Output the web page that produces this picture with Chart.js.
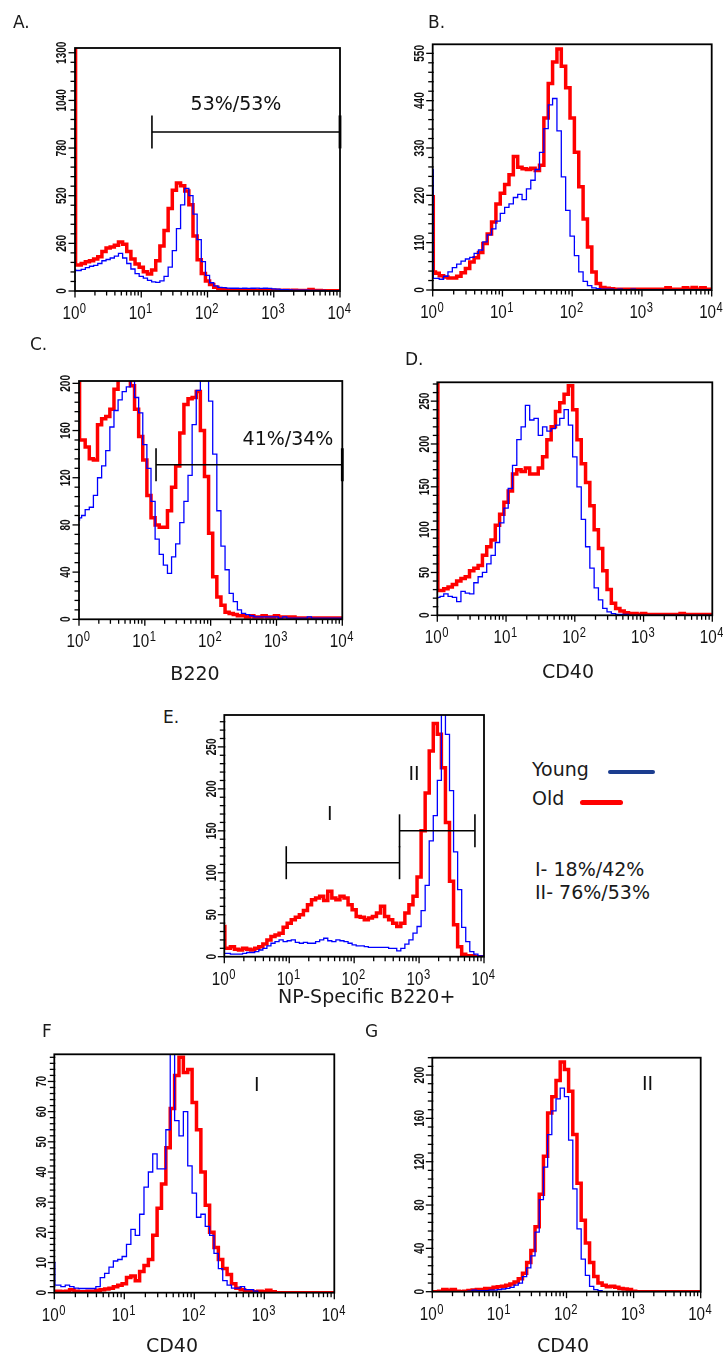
<!DOCTYPE html>
<html><head><meta charset="utf-8">
<script src="https://cdn.jsdelivr.net/npm/chart.js@4.4.1/dist/chart.umd.min.js"></script>
<style>
html,body{margin:0;padding:0;background:#fff;}
body{position:relative;width:723px;height:1355px;overflow:hidden;font-family:"DejaVu Sans",sans-serif;color:#1a1a1a;}
canvas{position:absolute;}
.t{position:absolute;white-space:nowrap;line-height:1;}
.c{text-align:center;width:240px;}
.ln{position:absolute;height:4.5px;border-radius:2.5px;}
</style></head><body>
<canvas id="cA" width="360" height="330" style="left:0;top:0"></canvas>
<canvas id="cB" width="363" height="330" style="left:360px;top:0"></canvas>
<canvas id="cC" width="360" height="360" style="left:0;top:330px"></canvas>
<canvas id="cD" width="363" height="360" style="left:360px;top:330px"></canvas>
<canvas id="cE" width="320" height="330" style="left:180px;top:690px"></canvas>
<canvas id="cF" width="360" height="335" style="left:0;top:1020px"></canvas>
<canvas id="cG" width="363" height="335" style="left:360px;top:1020px"></canvas>

<div class="t" style="left:13px;top:13.6px;font-size:17px">A.</div>
<div class="t" style="left:428px;top:13.6px;font-size:17px">B.</div>
<div class="t" style="left:30px;top:335.6px;font-size:17px">C.</div>
<div class="t" style="left:405px;top:350.6px;font-size:17px">D.</div>
<div class="t" style="left:163px;top:708.6px;font-size:17px">E.</div>
<div class="t" style="left:42px;top:1022.6px;font-size:17px">F</div>
<div class="t" style="left:365px;top:1022.6px;font-size:17px">G</div>

<div class="t c" style="left:75px;top:663.9px;font-size:19px">B220</div>
<div class="t c" style="left:448px;top:661.9px;font-size:19px">CD40</div>
<div class="t c" style="left:246.7px;top:986.9px;font-size:19px">NP-Specific B220+</div>
<div class="t c" style="left:52px;top:1335.9px;font-size:19px">CD40</div>
<div class="t c" style="left:443px;top:1335.9px;font-size:19px">CD40</div>

<div class="t" style="left:532px;top:759.9px;font-size:19px">Young</div>
<div class="ln" style="left:608px;top:769.5px;width:47px;background:#1b3d8f"></div>
<div class="t" style="left:532px;top:788.9px;font-size:19px">Old</div>
<div class="ln" style="left:580px;top:800px;width:43px;background:#ff0000"></div>
<div class="t" style="left:535px;top:859.9px;font-size:19px">I- 18%/42%</div>
<div class="t" style="left:535px;top:882.9px;font-size:19px">II- 76%/53%</div>

<script>
// ---------- DATA ----------
// histogram channel positions (fluorescence intensity, log axis 10^0 .. 10^4)
const X_CHANNELS = [1, 1.04, 1.155, 1.334, 1.54, 1.778, 2.054, 2.371, 2.738, 3.162, 3.652, 4.217, 4.87, 5.623, 6.494, 7.499, 8.66,
  10, 11.55, 13.34, 15.4, 17.78, 20.54, 23.71, 27.38, 31.62, 36.52, 42.17, 48.7, 56.23, 64.94, 74.99, 86.6,
  100, 115.5, 133.4, 154, 177.8, 205.4, 237.1, 273.8, 316.2, 365.2, 421.7, 487, 562.3, 649.4, 749.9, 866,
  1000, 1155, 1334, 1540, 1778, 2054, 2371, 2738, 3162, 3652, 4217, 4870, 5623, 6494, 7499, 8660, 10000];

const X_TICK_VALUES = [1, 10, 100, 1000, 10000];
const X_TICK_BASE = '10';
const X_TICK_EXP = ['0', '1', '2', '3', '4'];

// Panel A
const A_YOUNG = [118, 112, 112, 118, 128, 135, 140, 150, 165, 172, 180, 190, 205, 180, 150, 120, 95, 80, 70, 58, 50, 47,
  55, 80, 130, 220, 340, 470, 560, 520, 420, 280, 160, 85, 45, 28, 20, 18, 16, 15, 15, 14,
  15, 14, 15, 16, 14, 15, 14, 12, 10, 8, 7, 6, 5, 5, 4, 4, 3, 3, 3, 3, 2, 2, 2, 2];
const A_OLD = [1400, 142, 142, 150, 160, 165, 175, 187, 215, 235, 240, 250, 268, 255, 215, 175, 148, 130, 105, 93, 115, 165,
  245, 330, 450, 550, 590, 575, 545, 470, 300, 170, 95, 55, 35, 20, 12, 8, 6, 5, 5, 4,
  5, 4, 5, 4, 4, 5, 4, 4, 4, 3, 4, 3, 4, 3, 3, 3, 8, 3, 3, 2, 2, 2, 2, 2];
const A_Y_TICKS = [0, 260, 520, 780, 1040, 1300];
const A_GATES = [[14.5, 10000, 868]];
const A_NOTES = [['53%/53%', 269, 987]];

// Panel B
const B_YOUNG = [280, 27, 27, 25, 32, 42, 52, 60, 67, 72, 76, 85, 93, 112, 128, 142, 160, 178, 192, 200, 215, 222,
  210, 235, 255, 280, 320, 375, 430, 445, 370, 263, 185, 125, 80, 42, 20, 10, 5, 3, 2, 2,
  2, 1, 2, 1, 1, 2, 1, 1, 1, 1, 1, 1, 1, 1, 1, 1, 1, 1, 1, 1, 1, 1, 1, 1];
const B_OLD = [217, 42, 39, 33, 30, 28, 28, 32, 40, 50, 65, 75, 87, 108, 130, 158, 200, 225, 245, 268, 310, 285,
  282, 280, 283, 278, 290, 400, 480, 530, 560, 520, 470, 400, 320, 240, 165, 100, 42, 15, 6, 4,
  3, 2, 2, 2, 2, 2, 2, 2, 2, 2, 2, 2, 2, 5, 2, 2, 2, 5, 2, 6, 2, 5, 2, 2];
const B_Y_TICKS = [0, 110, 220, 330, 440, 550];

// Panel C
const C_YOUNG = [84, 86, 88, 93, 95, 105, 120, 130, 143, 163, 177, 186, 193, 197, 205, 188, 175, 148, 128, 100, 68, 55,
  46, 39, 53, 64, 82, 100, 122, 165, 194, 205, 205, 185, 140, 92, 62, 42, 22, 15, 8, 5,
  4, 3, 2, 2, 2, 2, 2, 2, 1, 2, 1, 1, 1, 1, 1, 2, 1, 1, 1, 1, 1, 1, 1, 1];
const C_OLD = [215, 152, 152, 146, 136, 135, 165, 170, 172, 178, 195, 205, 205, 205, 198, 178, 155, 135, 105, 86, 80, 78,
  78, 92, 112, 130, 158, 182, 187, 188, 193, 160, 121, 73, 36, 19, 12, 6, 5, 4, 3, 3,
  2, 3, 2, 2, 3, 2, 2, 3, 2, 2, 2, 2, 1, 1, 1, 1, 1, 1, 1, 1, 1, 1, 1, 1];
const C_Y_TICKS = [0, 40, 80, 120, 160, 200];
const C_GATES = [[14.8, 10000, 131]];
const C_NOTES = [['41%/34%', 1496, 148]];

// Panel D
const D_YOUNG = [21, 21, 22, 25, 22, 21, 16, 28, 26, 25, 38, 45, 50, 60, 70, 85, 108, 125, 148, 175, 205, 220,
  245, 228, 230, 210, 220, 215, 218, 222, 230, 240, 222, 185, 150, 112, 80, 55, 32, 18, 8, 4,
  2, 1, 1, 1, 0, 0, 0, 0, 0, 0, 0, 0, 0, 0, 0, 0, 0, 0, 0, 0, 0, 0, 0, 0];
const D_OLD = [280, 29, 29, 31, 33, 36, 40, 43, 45, 52, 55, 58, 70, 80, 88, 105, 118, 132, 145, 165, 170, 168,
  172, 165, 165, 172, 185, 205, 220, 238, 248, 258, 268, 240, 205, 177, 155, 128, 100, 78, 52, 30,
  14, 8, 5, 3, 2, 2, 1, 2, 1, 1, 1, 1, 1, 1, 1, 1, 2, 1, 1, 1, 1, 1, 1, 1];
const D_Y_TICKS = [0, 50, 100, 150, 200, 250];

// Panel E (NP-specific B220+)
const E_YOUNG = [4, 4, 4, 3, 3, 3, 4, 5, 5, 6, 8, 10, 13, 16, 18, 20, 18, 19, 20, 17, 16, 17,
  16, 16, 18, 20, 22, 19, 18, 20, 19, 18, 16, 14, 13, 13, 12, 11, 11, 11, 11, 11,
  10, 10, 7, 10, 15, 20, 28, 36, 55, 85, 138, 168, 210, 300, 265, 198, 125, 80, 35, 18, 6, 3, 1, 1];
const E_OLD = [36, 10, 10, 12, 9, 8, 10, 9, 8, 10, 12, 15, 20, 24, 26, 28, 35, 40, 44, 47, 50, 55,
  62, 68, 70, 72, 67, 78, 70, 68, 72, 70, 62, 56, 48, 47, 44, 46, 48, 52, 60, 48,
  44, 40, 36, 40, 52, 62, 72, 95, 150, 195, 245, 278, 265, 225, 160, 90, 38, 12, 3, 1, 1, 0, 0, 0];
const E_Y_TICKS = [0, 50, 100, 150, 200, 250];
const E_GATES = [[9, 500, 112], [500, 7250, 150]];
const E_NOTES = [['I', 42, 163], ['II', 835, 210]];

// Panel F (gate I, CD40)
const F_YOUNG = [10, 2.5, 2.5, 2, 2.5, 2, 1.5, 1.4, 1.4, 1.4, 1.4, 2, 5, 6.4, 8.5, 10.5, 11, 12, 16, 21, 19, 26,
  35, 40, 46, 41, 41, 54, 79, 57, 52, 60, 42, 33, 25, 26, 22, 19, 13, 8, 4, 2.5,
  1.5, 1.5, 2, 1, 1, 0.5, 0, 0, 0, 0, 0, 0, 0, 0, 0, 0, 0, 0, 0, 0, 0, 0, 0, 0];
const F_OLD = [0.5, 0.5, 0.5, 0.3, 0.5, 1, 0.5, 0.3, 0.3, 0.5, 0.5, 0.8, 1, 1.2, 1.5, 2, 2.5, 3, 5, 5.5, 4, 7,
  9, 11, 19, 28, 36, 48, 61, 72, 78, 73, 74, 63, 54, 40, 29, 20, 15, 11, 8, 6,
  3, 1.5, 1, 0.5, 0.5, 0.3, 0.5, 0.3, 0.8, 0.3, 0, 0, 0, 0, 0, 0, 0, 0, 0, 0, 0, 0, 0, 0];
const F_Y_TICKS = [0, 10, 20, 30, 40, 50, 60, 70];
const F_NOTES = [['I', 780, 67]];

// Panel G (gate II, CD40)
const G_YOUNG = [0, 0, 0, 0, 0, 0, 0, 0, 0, 0, 0.5, 1.5, 1, 1, 1, 1.5, 1.5, 2, 2.5, 3, 4, 6,
  8, 14, 22, 33, 55, 85, 115, 145, 167, 178, 188, 180, 140, 95, 58, 30, 15, 5, 2, 1,
  0, 0, 0, 0, 0, 0, 0, 0, 0, 0, 0, 0, 0, 0, 0, 0, 0, 0, 0, 0, 0, 0, 0, 0];
const G_OLD = [0, 0, 0, 0.5, 2, 1, 2, 0.5, 0, 0.5, 1, 1.5, 2, 2, 3, 3, 4, 4.5, 5, 6, 7, 9,
  12, 17, 27, 38, 60, 90, 125, 165, 180, 195, 212, 205, 185, 145, 100, 66, 45, 27, 14, 8,
  6, 4.5, 5, 4, 3, 2.5, 2, 0.5, 0, 0, 0, 0, 0, 0, 0, 0, 0, 0, 0, 0, 0, 0, 0, 0];
const G_Y_TICKS = [0, 40, 80, 120, 160, 200];
const G_NOTES = [['II', 1611, 186]];

// ---------- STYLE ----------
const BLUE = '#0000ff';
const RED = '#ff0000';
const TICK_FONT_X = '19px "Liberation Sans", Arial, sans-serif';
const TICK_FONT_SUP = '14px "Liberation Sans", Arial, sans-serif';
const TICK_FONT_Y = 'bold 14px "Liberation Sans", Arial, sans-serif';
const NOTE_FONT = '19px "DejaVu Sans", sans-serif';

function toPoints(ys) { return ys.map((v, i) => ({ x: X_CHANNELS[i], y: v })); }

function axesPlugin(p) {
  return {
    id: 'facsAxes',
    afterDatasetsDraw(chart) {
      const ctx = chart.ctx, a = chart.chartArea, xs = chart.scales.x, ys = chart.scales.y;
      ctx.save();
      ctx.strokeStyle = '#000';
      ctx.fillStyle = '#111';
      const seg = (x1, y1, x2, y2, w) => { ctx.lineWidth = w; ctx.beginPath(); ctx.moveTo(x1, y1); ctx.lineTo(x2, y2); ctx.stroke(); };
      // x tick marks (decades + minor 2..9)
      for (let d = 0; d < X_TICK_VALUES.length; d++) {
        const base = X_TICK_VALUES[d];
        const reps = d < X_TICK_VALUES.length - 1 ? 9 : 1;
        for (let m = 1; m <= reps; m++) {
          const px = xs.getPixelForValue(base * m);
          seg(px, a.bottom, px, a.bottom + (m === 1 ? 6.5 : 4.5), 1.3);
        }
      }
      // y tick marks
      const ticks = p.yTicks, step = (ticks[1] - ticks[0]) / 5;
      for (let i = 0; i * step <= ys.max + 1e-9; i++) {
        const py = ys.getPixelForValue(i * step);
        const major = i % 5 === 0;
        seg(a.left - (major ? 6.5 : 4.5), py, a.left + 1, py, 1.3);
      }
      // frame
      ctx.lineWidth = 1.8;
      ctx.strokeRect(a.left, a.top, a.right - a.left, a.bottom - a.top);
      // x labels 10^n
      ctx.textAlign = 'left';
      ctx.textBaseline = 'alphabetic';
      X_TICK_VALUES.forEach((v, i) => {
        const px = xs.getPixelForValue(v);
        ctx.font = TICK_FONT_X; const w1 = ctx.measureText(X_TICK_BASE).width * 0.8;
        ctx.font = TICK_FONT_SUP; const w2 = ctx.measureText(X_TICK_EXP[i]).width * 0.8;
        const left = px - (w1 + w2) / 2 - 1, base = a.bottom + 28;
        ctx.save(); ctx.translate(left, base); ctx.scale(0.8, 1); ctx.font = TICK_FONT_X; ctx.fillText(X_TICK_BASE, 0, 0); ctx.restore();
        ctx.save(); ctx.translate(left + w1 + 0.5, base - 6); ctx.scale(0.8, 1); ctx.font = TICK_FONT_SUP; ctx.fillText(X_TICK_EXP[i], 0, 0); ctx.restore();
      });
      // y labels (rotated)
      ticks.forEach(v => {
        const py = ys.getPixelForValue(v);
        ctx.save(); ctx.translate(a.left - 12.5, py); ctx.rotate(-Math.PI / 2); ctx.scale(0.72, 1);
        ctx.font = TICK_FONT_Y; ctx.textAlign = 'center'; ctx.textBaseline = 'middle';
        ctx.fillText(String(v), 0, 0); ctx.restore();
      });
      // gate markers
      (p.gates || []).forEach(g => {
        const p1 = xs.getPixelForValue(g[0]), p2 = xs.getPixelForValue(g[1]), py = ys.getPixelForValue(g[2]);
        seg(p1, py, p2, py, 1.6);
        seg(p1, py - 16.5, p1, py + 16.5, 1.6);
        seg(p2, py - 16.5, p2, py + 16.5, g[1] >= 10000 ? 2.8 : 1.6);
      });
      // notes
      ctx.font = NOTE_FONT; ctx.textAlign = 'center'; ctx.textBaseline = 'alphabetic';
      (p.notes || []).forEach(n => {
        ctx.fillText(n[0], xs.getPixelForValue(n[1]), ys.getPixelForValue(n[2]));
      });
      ctx.restore();
    }
  };
}

function makeChart(id, young, old, p) {
  new Chart(document.getElementById(id), {
    type: 'line',
    data: {
      datasets: [
        { label: 'Young', data: toPoints(young), borderColor: BLUE, borderWidth: 1.3, stepped: 'middle', pointRadius: 0, fill: false },
        { label: 'Old', data: toPoints(old), borderColor: RED, borderWidth: 3.5, stepped: 'middle', pointRadius: 0, fill: false }
      ]
    },
    options: {
      responsive: false, animation: false, events: [], devicePixelRatio: 1,
      layout: { padding: p.pad },
      scales: {
        x: { type: 'logarithmic', min: 1, max: 10000, display: false },
        y: { type: 'linear', min: 0, max: p.yMax, display: false }
      },
      plugins: { legend: { display: false }, tooltip: { enabled: false } }
    },
    plugins: [axesPlugin(p)]
  });
}

makeChart('cA', A_YOUNG, A_OLD, { pad: { left: 75, top: 48, right: 20, bottom: 39 }, yMax: 1326, yTicks: A_Y_TICKS, gates: A_GATES, notes: A_NOTES });
makeChart('cB', B_YOUNG, B_OLD, { pad: { left: 72.7, top: 44.3, right: 11.3, bottom: 40 }, yMax: 571, yTicks: B_Y_TICKS });
makeChart('cC', C_YOUNG, C_OLD, { pad: { left: 79, top: 51, right: 17.7, bottom: 70.7 }, yMax: 202, yTicks: C_Y_TICKS, gates: C_GATES, notes: C_NOTES });
makeChart('cD', D_YOUNG, D_OLD, { pad: { left: 77.3, top: 52.3, right: 10.7, bottom: 74.7 }, yMax: 272, yTicks: D_Y_TICKS });
makeChart('cE', E_YOUNG, E_OLD, { pad: { left: 44.3, top: 25, right: 16, bottom: 63.3 }, yMax: 288, yTicks: E_Y_TICKS, gates: E_GATES, notes: E_NOTES });
makeChart('cF', F_YOUNG, F_OLD, { pad: { left: 54.3, top: 34.3, right: 25.7, bottom: 62.3 }, yMax: 79, yTicks: F_Y_TICKS, notes: F_NOTES });
makeChart('cG', G_YOUNG, G_OLD, { pad: { left: 72.3, top: 37.7, right: 22.3, bottom: 63.3 }, yMax: 216, yTicks: G_Y_TICKS, notes: G_NOTES });
</script>
</body></html>
